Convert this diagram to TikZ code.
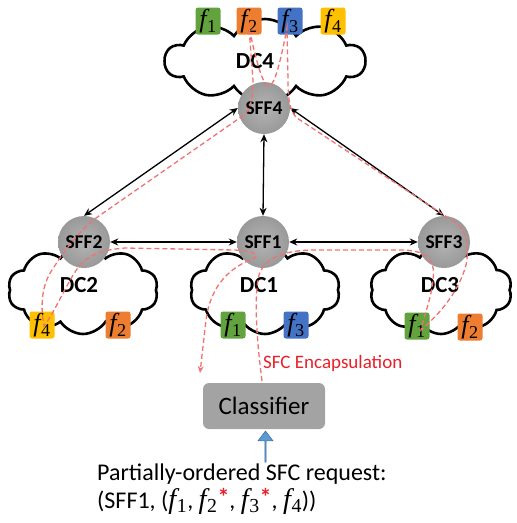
\documentclass[tikz,border=0pt]{standalone}
\usepackage{fontspec}
\setmainfont{Carlito}
\newfontfamily\fnfont[Scale=1.18]{Liberation Serif}
\newcommand{\fn}[1]{{\fnfont\itshape f\kern0.02em}\textsubscript{\fnfont #1}}
\newcommand{\rstar}{\raisebox{3pt}{\textcolor{labred}{\textbf{*}}}}
\usetikzlibrary{shapes.symbols,shapes.arrows,arrows.meta}
\definecolor{fgreen}{HTML}{62A33D}
\definecolor{forange}{HTML}{ED7D31}
\definecolor{fblue}{HTML}{4472C4}
\definecolor{fyellow}{HTML}{FFC000}
\definecolor{flowred}{HTML}{F27272}
\definecolor{labred}{HTML}{E8202A}
\definecolor{clsgray}{HTML}{A3A3A3}
\definecolor{sffin}{HTML}{B4B4B4}
\definecolor{sffout}{HTML}{999999}
\definecolor{inblue}{HTML}{5B9BD5}
\definecolor{inblueline}{HTML}{41719C}
\begin{document}
\begin{tikzpicture}[x=1pt,y=-1pt,
  dc/.style={cloud, cloud puffs=10, cloud puff arc=115, cloud ignores aspect,
    draw=black, line width=2.6pt, fill=white, inner sep=0pt},
  dclabel/.style={font=\fontsize{23}{23}\selectfont\bfseries, inner sep=0pt},
  fbox/.style={rounded corners=2.5pt, minimum width=25pt, minimum height=27pt,
    inner sep=0pt, font=\fontsize{22}{22}\selectfont},
  sff/.style={circle, minimum size=52pt, inner sep=0pt, shading=radial,
    inner color=sffin, outer color=sffout,
    font=\fontsize{19.5}{19.5}\selectfont\bfseries},
  link/.style={draw=black, line width=1.3pt,
    {Stealth[length=8pt,width=7pt]}-{Stealth[length=8pt,width=7pt]}},
  flow/.style={draw=flowred, line width=1.3pt, dash pattern=on 5pt off 3pt}
]
\useasboundingbox (0,0) rectangle (517,523);

% clouds
\node[dc, minimum width=200pt, minimum height=84pt] (dc4) at (265,61) {};
\node[dc, minimum width=150pt, minimum height=88pt] (dc2) at (83,290) {};
\node[dc, minimum width=150pt, minimum height=88pt] (dc1) at (265,290) {};
\node[dc, minimum width=142pt, minimum height=88pt] (dc3) at (441,290) {};

\node[dclabel] (l4) at (255,61) {DC4};
\node[dclabel] (l2) at (79,285) {DC2};
\node[dclabel] (l1) at (259,285) {DC1};
\node[dclabel] (l3) at (440,285) {DC3};

% function boxes
\node[fbox, fill=fgreen]  (t1) at (208,21) {\fn{1}};
\node[fbox, fill=forange] (t2) at (249,21) {\fn{2}};
\node[fbox, fill=fblue]   (t3) at (290,21) {\fn{3}};
\node[fbox, fill=fyellow] (t4) at (333,21) {\fn{4}};
\node[fbox, fill=fyellow] (a4) at (42,325) {\fn{4}};
\node[fbox, fill=forange] (a2) at (118,325) {\fn{2}};
\node[fbox, fill=fgreen]  (b1) at (233,325) {\fn{1}};
\node[fbox, fill=fblue]   (b3) at (296,325) {\fn{3}};
\node[fbox, fill=fgreen]  (c1) at (417,326) {\fn{1}};
\node[fbox, fill=forange] (c2) at (470,327) {\fn{2}};

% SFF nodes
\node[sff] (sff4) at (264,108) {SFF4};
\node[sff] (sff2) at (84,242) {SFF2};
\node[sff] (sff1) at (263,242) {SFF1};
\node[sff] (sff3) at (444,242) {SFF3};

% links
\draw[link] (sff2.north) -- (sff4.west);
\draw[link] (sff3.north) -- (sff4.east);
\draw[link] (sff1.north) -- (sff4.south);
\draw[link] (sff2.east) -- (sff1.west);
\draw[link] (sff1.east) -- (sff3.west);

% classifier and request
\node[rounded corners=6pt, fill=clsgray, minimum width=122pt, minimum height=46pt,
  inner sep=0pt, font=\fontsize{25}{25}\selectfont] (cls) at (264,406) {Classifier};
\node[single arrow, shape border rotate=90, fill=inblue, draw=inblueline, line width=0.6pt,
  minimum height=31pt, minimum width=15pt, single arrow head extend=3pt,
  single arrow tip angle=75, inner sep=0pt] (inarr) at (265.5,447) {};
\node[anchor=base west, inner sep=0pt, font=\fontsize{24}{24}\selectfont] (req1) at (97,480)
  {Partially-ordered SFC request:};
\node[anchor=base west, inner sep=0pt, font=\fontsize{24}{24}\selectfont] (req2) at (97,508)
  {(SFF1, (\fn{1}, \fn{2}\rstar, \fn{3}\rstar, \fn{4}))};
\node[anchor=west, inner sep=0pt, text=labred, font=\fontsize{19}{19}\selectfont] (enc) at (263,363)
  {SFC Encapsulation};

% service function chain path
\draw[flow, -{Stealth[length=7pt,width=6pt]}]
  (262,381)
  .. controls (258,350) and (253,300) .. (259,275)
  .. controls (265,257) and (285,251) .. (310,250)
  -- (400,250)
  .. controls (425,250) and (436,258) .. (433,280)
  .. controls (431,300) and (424,315) .. (421,330)
  .. controls (435,318) and (458,295) .. (466,265)
  .. controls (470,245) and (466,228) .. (453,221)
  -- (297,118)
  .. controls (290,112) and (288,100) .. (288,80)
  -- (287,28)
  .. controls (272,105) and (266,105) .. (249,28)
  -- (253,80)
  .. controls (253,100) and (250,110) .. (244,115)
  -- (96,218)
  .. controls (78,232) and (65,250) .. (52,270)
  .. controls (42,285) and (40,305) .. (44,326)
  .. controls (55,312) and (68,280) .. (80,265)
  .. controls (90,255) and (100,250) .. (125,248)
  -- (235,250)
  .. controls (250,251) and (264,254) .. (252,259)
  .. controls (225,270) and (210,290) .. (206,320)
  -- (200,373);
\end{tikzpicture}
\end{document}
